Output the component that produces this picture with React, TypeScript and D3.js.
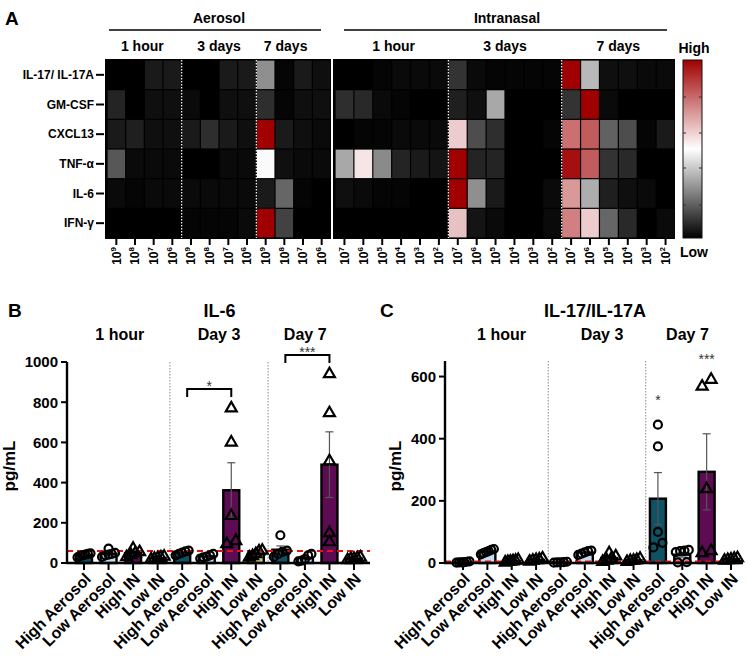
import React from "react";
import * as d3 from "d3";

// ---------- Panel A data ----------
const cytokines = ["IL-17/ IL-17A", "GM-CSF", "CXCL13", "TNF-α", "IL-6", "IFN-γ"];
const aerosolTimes = ["1 hour", "3 days", "7 days"];
const aerosolDoses = ["9", "8", "7", "6"];
const inTimes = ["1 hour", "3 days", "7 days"];
const inDoses = ["7", "6", "5", "4", "3", "2"];

// relative level 0 (low) .. 1 (high); rows = cytokines; cols = time x dose
const aerosolHeat = [
  [0.0, 0.0, 0.05, 0.05, 0.0, 0.0, 0.05, 0.05, 0.28, 0.01, 0.05, 0.03],
  [0.07, 0.0, 0.03, 0.03, 0.02, 0.0, 0.03, 0.03, 0.09, 0.01, 0.03, 0.03],
  [0.05, 0.06, 0.03, 0.03, 0.05, 0.09, 0.05, 0.03, 1.0, 0.05, 0.03, 0.02],
  [0.17, 0.02, 0.02, 0.02, 0.0, 0.0, 0.02, 0.02, 0.49, 0.03, 0.02, 0.02],
  [0.02, 0.01, 0.02, 0.02, 0.02, 0.02, 0.02, 0.02, 0.05, 0.2, 0.01, 0.0],
  [0.0, 0.0, 0.0, 0.0, 0.01, 0.01, 0.01, 0.02, 1.0, 0.13, 0.0, 0.0],
];
const inHeat = [
  [0.0, 0.0, 0.01, 0.02, 0.02, 0.02, 0.1, 0.02, 0.01, 0.01, 0.01, 0.01, 1.0, 0.36, 0.03, 0.03, 0.02, 0.02],
  [0.09, 0.08, 0.02, 0.01, 0.0, 0.0, 0.06, 0.03, 0.33, 0.0, 0.0, 0.0, 0.1, 1.0, 0.02, 0.0, 0.0, 0.0],
  [0.0, 0.01, 0.01, 0.02, 0.02, 0.02, 0.6, 0.15, 0.09, 0.0, 0.0, 0.01, 0.78, 0.82, 0.19, 0.15, 0.01, 0.05],
  [0.33, 0.55, 0.27, 0.07, 0.05, 0.04, 1.0, 0.07, 0.07, 0.0, 0.0, 0.0, 0.97, 0.82, 0.1, 0.08, 0.0, 0.0],
  [0.03, 0.02, 0.01, 0.01, 0.0, 0.0, 1.0, 0.28, 0.05, 0.0, 0.0, 0.02, 0.7, 0.34, 0.06, 0.03, 0.02, 0.0],
  [0.0, 0.0, 0.0, 0.0, 0.0, 0.0, 0.62, 0.04, 0.02, 0.0, 0.0, 0.02, 0.75, 0.6, 0.2, 0.08, 0.0, 0.02],
];

// ---------- Panels B/C data ----------
const groups = ["High Aerosol", "Low Aerosol", "High IN", "Low IN"];
const timepoints = ["1 hour", "Day 3", "Day 7"];
const groupColors = ["#0d5265", "#c6dcf0", "#5d0b52", "#cfc98c"];
const groupShapes = ["circle", "circle", "triangle", "triangle"];

const il6Points = [
  [28, 35, 42, 48, 38, 45],
  [30, 38, 45, 50, 72, 42],
  [30, 40, 48, 55, 72],
  [18, 22, 28, 32, 25],
  [38, 45, 52, 58, 62],
  [22, 28, 32, 38, 45],
  [770, 600, 235, 110, 95],
  [28, 35, 45, 58, 62],
  [138, 62, 55, 45, 30],
  [8, 12, 20, 38, 45],
  [940, 746, 507, 149, 104],
  [15, 20, 25, 28, 22],
];
const il17Points = [
  [1, 2, 3, 4, 5, 2],
  [28, 32, 38, 42, 45, 35],
  [2, 4, 6, 8, 10, 5],
  [5, 8, 12, 15, 10],
  [1, 2, 3, 4, 2],
  [26, 30, 34, 38, 40],
  [4, 8, 14, 22, 32],
  [4, 7, 10, 14, 8],
  [445, 375, 100, 65, 50],
  [42, 40, 38, 35, 3, 2],
  [590, 568, 238, 39, 32],
  [8, 10, 14, 16, 12],
];
const il6Ticks = [0, 200, 400, 600, 800, 1000];
const il17Ticks = [0, 200, 400, 600];
const il6Threshold = 60;
const il17Threshold = 5;
const il6Sig = [
  { from: 4, to: 6, y: 866, label: "*" },
  { from: 8, to: 10, y: 1035, label: "***" },
];
const il17Sig = [
  { at: 8, y: 528, label: "*" },
  { at: 10, y: 660, label: "***" },
];

const FONT = "'Liberation Sans', Arial, Helvetica, sans-serif";

const heatColor = d3.scaleLinear<string>().domain([0, 0.5, 1]).range(["#000000", "#ffffff", "#a00000"]);

function HeatBlock({ data, x, times, doses, headerDx }) {
  const y = d3.scaleBand<string>(cytokines, [60, 238]);
  const bw = x.bandwidth();
  const nPer = doses.length;
  const x0 = x.range()[0];
  const x1 = x.range()[1];
  return (
    <g>
      <rect x={x0 - 2} y={59} width={x1 - x0 + 2} height={180} fill="#000" />
      {data.map((row, r) =>
        row.map((v, c) => (
          <rect key={r + "-" + c} x={x(c) + 0.6} y={y(cytokines[r]) + 0.6} width={bw - 1.2} height={y.bandwidth() - 1.2} fill={heatColor(v)} />
        ))
      )}
      {d3.range(1, times.length).map((k) => (
        <line key={k} x1={x(k * nPer)} x2={x(k * nPer)} y1={60} y2={238} stroke="#fff" strokeWidth={1.2} strokeDasharray="1.5,1.5" />
      ))}
      {d3.range(data[0].length).map((c) => {
        const cx = x(c) + bw / 2;
        return (
          <g key={c}>
            <line x1={cx} x2={cx} y1={238} y2={245} stroke="#000" strokeWidth={2} />
            <text transform={`translate(${cx},247) rotate(-90)`} textAnchor="end" dy="0.36em" fontSize={12} fontWeight="bold" fontFamily={FONT}>
              10<tspan fontSize={8} dy={-5}>{doses[c % nPer]}</tspan>
            </text>
          </g>
        );
      })}
      {times.map((t, k) => (
        <text key={t} x={x(k * nPer) + (bw * nPer) / 2 + headerDx[k]} y={51} textAnchor="middle" fontSize={14} fontWeight="bold" fontFamily={FONT}>
          {t}
        </text>
      ))}
    </g>
  );
}

function dodgeOffsets(values, y, minDist = 8, maxW = 13) {
  const idx = d3.range(values.length).sort((a, b) => values[a] - values[b]);
  const offsets = new Array(values.length).fill(0);
  const clusters = [];
  let cur = [];
  idx.forEach((i) => {
    if (cur.length && Math.abs(y(values[i]) - y(values[cur[0]])) > minDist) {
      clusters.push(cur);
      cur = [];
    }
    cur.push(i);
  });
  if (cur.length) clusters.push(cur);
  clusters.forEach((cl) => {
    const k = cl.length;
    const step = k > 1 ? Math.min(9, maxW / (k - 1)) : 0;
    cl.forEach((i, j) => (offsets[i] = (j - (k - 1) / 2) * step));
  });
  return offsets;
}

function BarPanel({ letter, letterX, title, axisX, axisRight, xFirst, xLast, yMax, yTop, ticks, points, threshold, sig, stars, headerDx, ylabelX }) {
  const base = 563;
  const y = d3.scaleLinear([0, yMax], [base, yTop]);
  const cats = d3.range(12);
  const x = d3.scalePoint<number>(cats, [xFirst, xLast]);
  const tri = d3.symbol(d3.symbolTriangle, 52)();
  const titleX = (axisX + axisRight) / 2 + 1;
  return (
    <g fontFamily={FONT}>
      <text x={letterX} y={317} fontSize={19} fontWeight="bold">{letter}</text>
      <text x={titleX} y={317} textAnchor="middle" fontSize={18} fontWeight="bold">{title}</text>
      {timepoints.map((t, k) => (
        <text key={t} x={(x(k * 4) + x(k * 4 + 3)) / 2 + headerDx[k]} y={340} textAnchor="middle" fontSize={16} fontWeight="bold">{t}</text>
      ))}
      {[1, 2].map((k) => {
        const sx = (x(k * 4 - 1) + x(k * 4)) / 2;
        return <line key={k} x1={sx} x2={sx} y1={yTop} y2={base} stroke="#888" strokeWidth={1} strokeDasharray="1.5,1.5" />;
      })}
      {/* bars */}
      {cats.map((c) => {
        const vals = points[c];
        const m = d3.mean(vals);
        const cx = x(c);
        return (
          <rect key={c} x={cx - 8} y={y(m)} width={16} height={base - y(m)} fill={groupColors[c % 4]} stroke="#000" strokeWidth={2.4} />
        );
      })}
      {/* error bars */}
      {cats.map((c) => {
        const vals = points[c];
        const m = d3.mean(vals);
        const sem = d3.deviation(vals) / Math.sqrt(vals.length);
        const lo = Math.max(0, m - sem);
        const hi = m + sem;
        const cx = x(c);
        return (
          <g key={c} stroke="#555" strokeWidth={1.2}>
            <line x1={cx} x2={cx} y1={y(lo)} y2={y(hi)} />
            <line x1={cx - 4} x2={cx + 4} y1={y(hi)} y2={y(hi)} />
            <line x1={cx - 4} x2={cx + 4} y1={y(lo)} y2={y(lo)} />
          </g>
        );
      })}
      {/* threshold */}
      <line x1={axisX} x2={axisRight} y1={y(threshold)} y2={y(threshold)} stroke="#ee1111" strokeWidth={2} strokeDasharray="6,4" />
      {/* points */}
      {cats.map((c) => {
        const vals = points[c];
        const offs = dodgeOffsets(vals, y);
        const cx = x(c);
        return vals.map((v, i) =>
          groupShapes[c % 4] === "circle" ? (
            <circle key={c + "-" + i} cx={cx + offs[i]} cy={y(v)} r={4} fill="none" stroke="#000" strokeWidth={2.2} />
          ) : (
            <path key={c + "-" + i} d={tri} transform={`translate(${cx + offs[i]},${y(v)})`} fill="none" stroke="#000" strokeWidth={2.2} />
          )
        );
      })}
      {/* axes */}
      <line x1={axisX} x2={axisX} y1={yTop} y2={base + 1} stroke="#000" strokeWidth={2.4} />
      <line x1={axisX - 1} x2={axisRight} y1={base} y2={base} stroke="#000" strokeWidth={2.4} />
      {ticks.map((t) => (
        <g key={t}>
          <line x1={axisX - 6} x2={axisX} y1={y(t)} y2={y(t)} stroke="#000" strokeWidth={2} />
          <text x={axisX - 9} y={y(t)} dy="0.36em" textAnchor="end" fontSize={15} fontWeight="bold">{t}</text>
        </g>
      ))}
      {cats.map((c) => (
        <g key={c}>
          <line x1={x(c)} x2={x(c)} y1={base} y2={base + 7} stroke="#000" strokeWidth={2} />
          <text transform={`translate(${x(c) + 4},${base + 13}) rotate(-45)`} textAnchor="end" dy="0.35em" fontSize={16} fontWeight="bold">{groups[c % 4]}</text>
        </g>
      ))}
      <text transform={`translate(${ylabelX},466) rotate(-90)`} textAnchor="middle" dy="0.35em" fontSize={17} fontWeight="bold">pg/mL</text>
      {/* significance */}
      {sig.map((s, k) => {
        const xa = x(s.from) + 5;
        const xb = x(s.to);
        const yy = y(s.y);
        return (
          <g key={k}>
            <path d={`M${xa},${yy + 8}V${yy}H${xb}V${yy + 8}`} fill="none" stroke="#000" strokeWidth={2} />
            <text x={(xa + xb) / 2} y={yy + 2} textAnchor="middle" fontSize={14} fill="#333">{s.label}</text>
          </g>
        );
      })}
      {stars.map((s, k) => (
        <text key={k} x={x(s.at)} y={y(s.y) + 6} textAnchor="middle" fontSize={14} fill="#333">{s.label}</text>
      ))}
    </g>
  );
}

export default function App() {
  const xAer = d3.scaleBand<number>(d3.range(12), [107, 331]);
  const xIN = d3.scaleBand<number>(d3.range(18), [335, 675]);
  const yRow = d3.scaleBand<string>(cytokines, [60, 238]);
  return (
    <svg width={750} height={656} style={{ position: "absolute", left: 0, top: 0, background: "#fff" }} fontFamily={FONT}>
      <defs>
        <linearGradient id="cbar" x1="0" y1="1" x2="0" y2="0">
          <stop offset="0" stopColor={heatColor(0)} />
          <stop offset="0.25" stopColor={heatColor(0.25)} />
          <stop offset="0.5" stopColor={heatColor(0.5)} />
          <stop offset="0.75" stopColor={heatColor(0.75)} />
          <stop offset="1" stopColor={heatColor(1)} />
        </linearGradient>
      </defs>
      {/* Panel A */}
      <text x={5} y={25} fontSize={19} fontWeight="bold">A</text>
      <text x={219} y={23} textAnchor="middle" fontSize={14} fontWeight="bold">Aerosol</text>
      <line x1={109} x2={321} y1={30} y2={30} stroke="#000" strokeWidth={1.5} />
      <text x={507} y={23} textAnchor="middle" fontSize={14} fontWeight="bold">Intranasal</text>
      <line x1={344} x2={667} y1={30} y2={30} stroke="#000" strokeWidth={1.5} />
      <HeatBlock data={aerosolHeat} x={xAer} times={aerosolTimes} doses={aerosolDoses} headerDx={[-2, 0, -8]} />
      <HeatBlock data={inHeat} x={xIN} times={inTimes} doses={inDoses} headerDx={[2, 0, 0]} />
      {cytokines.map((c) => {
        const cy = yRow(c) + yRow.bandwidth() / 2;
        return (
          <g key={c}>
            <line x1={96} x2={104} y1={cy} y2={cy} stroke="#000" strokeWidth={2} />
            <text x={94} y={cy} dy="0.36em" textAnchor="end" fontSize={12} fontWeight="bold">{c}</text>
          </g>
        );
      })}
      {/* color bar */}
      <rect x={683} y={60} width={19} height={178} fill="url(#cbar)" stroke="#111" strokeWidth={1} />
      {[97, 133, 168, 205].map((ty) => (
        <g key={ty} stroke="#333" strokeWidth={1}>
          <line x1={683} x2={686} y1={ty} y2={ty} />
          <line x1={699} x2={702} y1={ty} y2={ty} />
        </g>
      ))}
      <text x={694} y={53} textAnchor="middle" fontSize={14} fontWeight="bold">High</text>
      <text x={694} y={257} textAnchor="middle" fontSize={14} fontWeight="bold">Low</text>

      {/* Panel B */}
      <BarPanel letter="B" letterX={8} title="IL-6" axisX={67} axisRight={370} xFirst={84} xLast={354} yMax={1000} yTop={362}
        ticks={il6Ticks} points={il6Points} threshold={il6Threshold} sig={il6Sig} stars={[]} headerDx={[-1, 0, -12]} ylabelX={9} />
      {/* Panel C */}
      <BarPanel letter="C" letterX={380} title="IL-17/IL-17A" axisX={445} axisRight={743} xFirst={463} xLast={731} yMax={650} yTop={361}
        ticks={il17Ticks} points={il17Points} threshold={il17Threshold} sig={[]} stars={il17Sig} headerDx={[2, 5, -7]} ylabelX={395} />
    </svg>
  );
}
